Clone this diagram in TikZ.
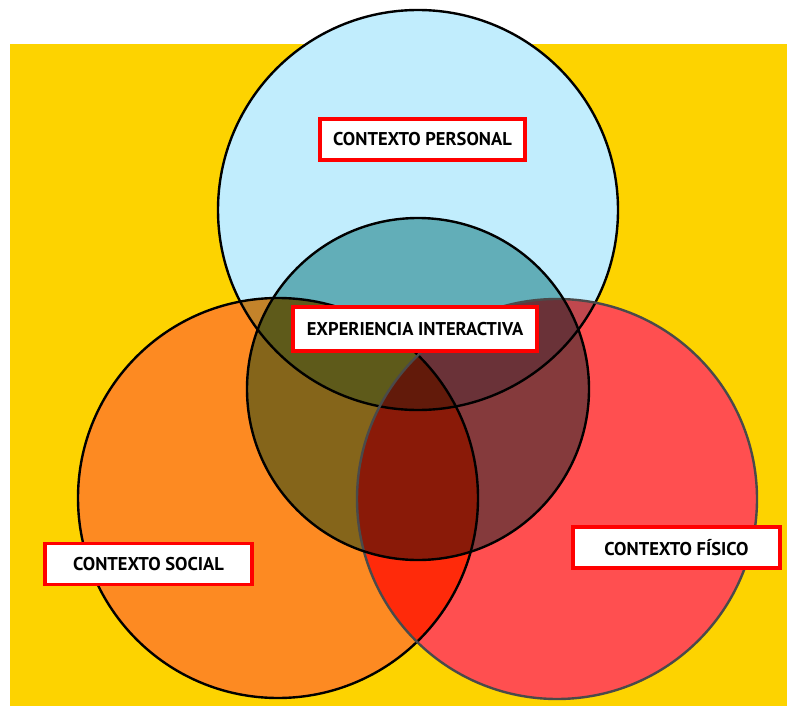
\documentclass[tikz,border=0pt]{standalone}
\usepackage{fontspec}
\newfontfamily\labelfont{PT Sans}
\definecolor{bgyellow}{HTML}{FDD300}
\definecolor{cperson}{HTML}{C1EDFD}
\definecolor{csocial}{HTML}{FD8A22}
\definecolor{cfisico}{HTML}{FF4F50}
\definecolor{tl}{HTML}{C4832A}
\definecolor{tr}{HTML}{C0484E}
\definecolor{lr}{HTML}{FF2A0A}
\definecolor{ct}{HTML}{62AEB8}
\definecolor{cl}{HTML}{85651A}
\definecolor{cr}{HTML}{853A3C}
\definecolor{ctl}{HTML}{5E5A1A}
\definecolor{ctr}{HTML}{6A3238}
\definecolor{clr}{HTML}{8A1A08}
\definecolor{ctlr}{HTML}{621A0A}
\definecolor{rimgray}{HTML}{4A4A4A}
\tikzset{
  lbl/.style={draw=red, line width=3.8pt, fill=white, inner sep=0pt,
    minimum height=41pt, font=\labelfont\bfseries\fontsize{18.5}{22}\selectfont},
  rim/.style={line width=2.4pt}
}
\newcommand{\cT}{(418,210) circle[radius=200pt]}
\newcommand{\cL}{(278,498) circle[radius=200pt]}
\newcommand{\cR}{(557,499) circle[radius=200pt]}
\newcommand{\cC}{(418,389) circle[radius=171pt]}
\begin{document}
\begin{tikzpicture}[x=1pt,y=-1pt]
\useasboundingbox (0,0) rectangle (787,706);
\fill[white] (0,0) rectangle (787,706);
\fill[bgyellow] (10,44) rectangle (787,706);
% base circles
\fill[cperson] \cT;
\fill[csocial] \cL;
\fill[cfisico] \cR;
% pairwise intersections
\begin{scope}\clip \cT; \fill[tl] \cL; \end{scope}
\begin{scope}\clip \cT; \fill[tr] \cR; \end{scope}
\begin{scope}\clip \cL; \fill[lr] \cR; \end{scope}
% centre circle regions
\begin{scope}\clip \cC;
  \fill[ct] \cT;
  \fill[cl] \cL;
  \fill[cr] \cR;
  \begin{scope}\clip \cT; \fill[ctl] \cL; \fill[ctr] \cR; \end{scope}
  \begin{scope}\clip \cL; \fill[clr] \cR; \end{scope}
  \begin{scope}\clip \cT; \clip \cL; \fill[ctlr] \cR; \end{scope}
\end{scope}
% outlines
\draw[rim, black] \cT;
\draw[rim, black] \cL;
\draw[rim, rimgray] \cR;
\draw[rim, black] \cC;
% labels
\node[lbl, minimum width=205pt] (personal) at (422.5,139.5) {CONTEXTO PERSONAL};
\node[lbl, minimum width=244pt, minimum height=44pt] (experiencia) at (415,329) {EXPERIENCIA INTERACTIVA};
\node[lbl, minimum width=207pt] (social) at (148.5,564) {CONTEXTO SOCIAL};
\node[lbl, minimum width=207pt] (fisico) at (676.5,547.5) {CONTEXTO FÍSICO};
\end{tikzpicture}
\end{document}
